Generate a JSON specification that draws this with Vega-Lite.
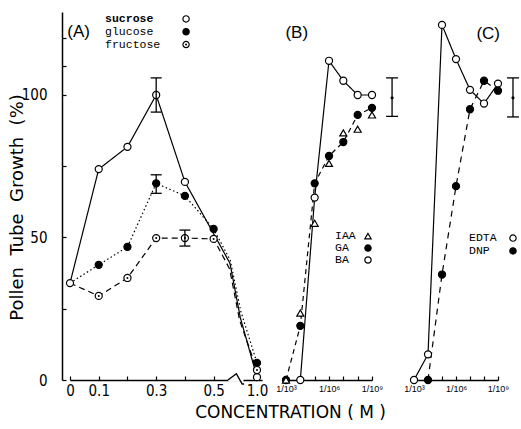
{
 "$schema": "https://vega.github.io/schema/vega-lite/v6.json",
 "width": 455,
 "height": 368,
 "autosize": {"type": "none"},
 "padding": {"left": 62, "top": 12, "right": 4, "bottom": 49},
 "background": "white",
 "config": {
  "view": {"stroke": null},
  "axis": {"grid": false, "domainColor": "black", "tickColor": "black", "labelColor": "black", "titleColor": "black", "domainWidth": 1.5, "tickWidth": 1.2, "labelFlush": false, "labelOverlap": false}
 },
 "datasets": {
  "A": [
   {"series": "sucrose", "conc": 0, "pct": 34},
   {"series": "sucrose", "conc": 0.1, "pct": 74},
   {"series": "sucrose", "conc": 0.2, "pct": 81.8},
   {"series": "sucrose", "conc": 0.3, "pct": 100},
   {"series": "sucrose", "conc": 0.4, "pct": 69.5},
   {"series": "sucrose", "conc": 0.58, "pct": 41},
   {"series": "sucrose", "conc": 0.74, "pct": 22},
   {"series": "sucrose", "conc": 1.0, "pct": 1},
   {"series": "glucose", "conc": 0, "pct": 34},
   {"series": "glucose", "conc": 0.1, "pct": 40.4},
   {"series": "glucose", "conc": 0.2, "pct": 46.7},
   {"series": "glucose", "conc": 0.3, "pct": 69},
   {"series": "glucose", "conc": 0.4, "pct": 64.6},
   {"series": "glucose", "conc": 0.5, "pct": 53},
   {"series": "glucose", "conc": 0.585, "pct": 42},
   {"series": "glucose", "conc": 0.75, "pct": 24},
   {"series": "glucose", "conc": 1.0, "pct": 6},
   {"series": "fructose", "conc": 0, "pct": 34},
   {"series": "fructose", "conc": 0.1, "pct": 29.5},
   {"series": "fructose", "conc": 0.2, "pct": 35.8},
   {"series": "fructose", "conc": 0.3, "pct": 49.8},
   {"series": "fructose", "conc": 0.4, "pct": 49.8},
   {"series": "fructose", "conc": 0.5, "pct": 49.5},
   {"series": "fructose", "conc": 0.575, "pct": 39},
   {"series": "fructose", "conc": 0.73, "pct": 21},
   {"series": "fructose", "conc": 1.0, "pct": 3.5}
  ],
  "Aerr": [
   {"conc": 0.3, "lo": 94, "hi": 106},
   {"conc": 0.3, "lo": 65.5, "hi": 72},
   {"conc": 0.4, "lo": 47, "hi": 52.6}
  ],
  "Abrk": [
   {"conc": 0.55, "pct": 0},
   {"conc": 0.68, "pct": 2.2},
   {"conc": 0.77, "pct": -1.4},
   {"conc": 0.8, "pct": -1.4}
  ],
  "Agap": [{"x1": 0.552, "x2": 0.79, "lo": -0.6, "hi": 0.6}],
  "Aleg": [
   {"series": "sucrose", "conc": 0.404, "pct": 126.7},
   {"series": "glucose", "conc": 0.404, "pct": 122.2},
   {"series": "fructose", "conc": 0.404, "pct": 117.7}
  ],
  "Atxt": [
   {"conc": 0.122, "pct": 126.7, "label": "sucrose"},
   {"conc": 0.122, "pct": 122.2, "label": "glucose"},
   {"conc": 0.122, "pct": 117.7, "label": "fructose"}
  ],
  "Apanel": [{"conc": 0.03, "pct": 122.1, "label": "(A)"}],
  "B": [
   {"series": "BA", "n": 4, "pct": 0},
   {"series": "BA", "n": 5, "pct": 64},
   {"series": "BA", "n": 6, "pct": 112},
   {"series": "BA", "n": 7, "pct": 105},
   {"series": "BA", "n": 8, "pct": 100},
   {"series": "BA", "n": 9, "pct": 100},
   {"series": "GA", "n": 3, "pct": 0},
   {"series": "GA", "n": 4, "pct": 19},
   {"series": "GA", "n": 5, "pct": 69},
   {"series": "GA", "n": 6, "pct": 78.6},
   {"series": "GA", "n": 7, "pct": 83.5},
   {"series": "GA", "n": 8, "pct": 93},
   {"series": "GA", "n": 9, "pct": 95.5},
   {"series": "IAA", "n": 3, "pct": 0},
   {"series": "IAA", "n": 4, "pct": 23.5},
   {"series": "IAA", "n": 5, "pct": 55},
   {"series": "IAA", "n": 6, "pct": 76},
   {"series": "IAA", "n": 7, "pct": 86.7},
   {"series": "IAA", "n": 8, "pct": 88},
   {"series": "IAA", "n": 9, "pct": 93}
  ],
  "Berr": [{"n": 10.4, "lo": 92.5, "hi": 106, "mid": 99}],
  "Bleg": [
   {"series": "IAA", "n": 8.72, "pct": 50.5},
   {"series": "GA", "n": 8.72, "pct": 46.3},
   {"series": "BA", "n": 8.72, "pct": 42.1}
  ],
  "Btxt": [
   {"n": 6.42, "pct": 50.5, "label": "IAA"},
   {"n": 6.42, "pct": 46.3, "label": "GA"},
   {"n": 6.42, "pct": 42.1, "label": "BA"}
  ],
  "Bpanel": [{"n": 3.75, "pct": 121.8, "label": "(B)"}],
  "C": [
   {"series": "EDTA", "n": 3, "pct": 0},
   {"series": "EDTA", "n": 4, "pct": 9},
   {"series": "EDTA", "n": 5, "pct": 124.6},
   {"series": "EDTA", "n": 6, "pct": 112.6},
   {"series": "EDTA", "n": 7, "pct": 101.8},
   {"series": "EDTA", "n": 8, "pct": 97},
   {"series": "EDTA", "n": 9, "pct": 104},
   {"series": "DNP", "n": 4, "pct": 0},
   {"series": "DNP", "n": 5, "pct": 37},
   {"series": "DNP", "n": 6, "pct": 68},
   {"series": "DNP", "n": 7, "pct": 95},
   {"series": "DNP", "n": 8, "pct": 105},
   {"series": "DNP", "n": 9, "pct": 101.5}
  ],
  "Cerr": [{"n": 10.07, "lo": 92.3, "hi": 106, "mid": 99}],
  "Cleg": [
   {"series": "EDTA", "n": 10.07, "pct": 49.8},
   {"series": "DNP", "n": 10.07, "pct": 45.3}
  ],
  "Ctxt": [
   {"n": 6.93, "pct": 49.8, "label": "EDTA"},
   {"n": 6.93, "pct": 45.3, "label": "DNP"}
  ],
  "Cpanel": [{"n": 8.3, "pct": 121.3, "label": "(C)"}]
 },
 "layer": [
  {
   "encoding": {
    "x": {"field": "conc", "type": "quantitative",
     "scale": {"domain": [0, 0.55, 1.078], "range": [8, 166, 200], "nice": false, "zero": false},
     "axis": {"orient": "bottom", "values": [0, 0.1, 0.2, 0.3, 0.4, 0.5, 1.0],
      "labelExpr": "datum.value==0.2||datum.value==0.4 ? '' : (datum.value==0 ? '0' : format(datum.value,'.1f'))",
      "tickSize": -4, "labelPadding": 7, "labelFont": "Liberation Sans Narrow, DejaVu Sans Condensed, Liberation Sans", "labelFontSize": 15, "title": null}},
    "y": {"field": "pct", "type": "quantitative",
     "scale": {"domain": [0, 129.12], "nice": false},
     "axis": {"values": [0, 25, 50, 75, 100, 110, 120],
      "labelExpr": "datum.value==0||datum.value==50||datum.value==100 ? datum.label : ''",
      "tickSize": -4, "labelPadding": 19, "labelFont": "Liberation Sans Narrow, DejaVu Sans Condensed, Liberation Sans", "labelFontSize": 15,
      "title": "Pollen\u00a0 Tube\u00a0 Growth\u00a0 (%)", "titleFont": "DejaVu Sans", "titleFontSize": 18, "titleFontWeight": "normal",
      "titleAngle": -90, "titleX": -45, "titleY": 195, "titleAlign": "center", "titleBaseline": "middle"}}
   },
   "layer": [
    {"data": {"name": "Agap"}, "mark": {"type": "rect", "color": "white", "opacity": 1},
     "encoding": {"x": {"field": "x1", "type": "quantitative"}, "x2": {"field": "x2"}, "y": {"field": "lo", "type": "quantitative"}, "y2": {"field": "hi"}}},
    {"data": {"name": "Abrk"}, "mark": {"type": "line", "color": "black", "strokeWidth": 1.4}, "encoding": {}},
    {"data": {"name": "A"}, "mark": {"type": "line", "color": "black", "strokeWidth": 1.2},
     "encoding": {"strokeDash": {"field": "series", "type": "nominal", "scale": {"domain": ["sucrose", "glucose", "fructose", "IAA", "GA", "BA", "EDTA", "DNP"], "range": [[1, 0], [1.5, 2.5], [6, 4], [1, 0], [5, 4], [1, 0], [1, 0], [6, 5]]}, "legend": null}}},
    {"data": {"name": "A"},
     "transform": [{"filter": "indexof([0,0.1,0.2,0.3,0.4,0.5,1],datum.conc)>=0 && (datum.conc>0 || datum.series=='sucrose')"}],
     "mark": {"type": "point", "filled": true, "stroke": "black", "strokeWidth": 1.2, "size": 50, "opacity": 1},
     "encoding": {
      "fill": {"field": "series", "type": "nominal", "scale": {"domain": ["sucrose", "glucose", "fructose", "IAA", "GA", "BA", "EDTA", "DNP"], "range": ["white", "black", "white", "white", "black", "white", "white", "black"]}, "legend": null},
      "shape": {"field": "series", "type": "nominal", "scale": {"domain": ["sucrose", "glucose", "fructose", "IAA", "GA", "BA", "EDTA", "DNP"], "range": ["circle", "circle", "circle", "triangle-up", "circle", "circle", "circle", "circle"]}, "legend": null}}},
    {"data": {"name": "A"},
     "transform": [{"filter": "indexof([0,0.1,0.2,0.3,0.4,0.5,1],datum.conc)>=0 && datum.conc>0 && datum.series=='fructose'"}],
     "mark": {"type": "circle", "color": "black", "size": 4, "opacity": 1}},
    {"data": {"name": "Aerr"}, "mark": {"type": "rule", "color": "black", "strokeWidth": 1.3},
     "encoding": {"y": {"field": "lo", "type": "quantitative"}, "y2": {"field": "hi"}}},
    {"data": {"name": "Aerr"}, "mark": {"type": "tick", "orient": "horizontal", "color": "black", "size": 11, "thickness": 1.3, "opacity": 1},
     "encoding": {"y": {"field": "lo", "type": "quantitative"}}},
    {"data": {"name": "Aerr"}, "mark": {"type": "tick", "orient": "horizontal", "color": "black", "size": 11, "thickness": 1.3, "opacity": 1},
     "encoding": {"y": {"field": "hi", "type": "quantitative"}}},
    {"data": {"name": "Aleg"},
     "mark": {"type": "point", "filled": true, "stroke": "black", "strokeWidth": 1.2, "size": 40, "opacity": 1},
     "encoding": {
      "fill": {"field": "series", "type": "nominal", "scale": {"domain": ["sucrose", "glucose", "fructose", "IAA", "GA", "BA", "EDTA", "DNP"], "range": ["white", "black", "white", "white", "black", "white", "white", "black"]}, "legend": null},
      "shape": {"field": "series", "type": "nominal", "scale": {"domain": ["sucrose", "glucose", "fructose", "IAA", "GA", "BA", "EDTA", "DNP"], "range": ["circle", "circle", "circle", "triangle-up", "circle", "circle", "circle", "circle"]}, "legend": null}}},
    {"data": {"name": "Aleg"}, "transform": [{"filter": "datum.series=='fructose'"}],
     "mark": {"type": "circle", "color": "black", "size": 4, "opacity": 1}},
    {"data": {"name": "Atxt"}, "transform": [{"filter": "datum.label=='sucrose'"}],
     "mark": {"type": "text", "align": "left", "baseline": "middle", "font": "Liberation Mono", "fontSize": 11.5, "fontWeight": "bold", "color": "black"},
     "encoding": {"text": {"field": "label"}}},
    {"data": {"name": "Atxt"}, "transform": [{"filter": "datum.label!='sucrose'"}],
     "mark": {"type": "text", "align": "left", "baseline": "middle", "font": "Liberation Mono", "fontSize": 11.5, "color": "black"},
     "encoding": {"text": {"field": "label"}}},
    {"data": {"name": "Apanel"},
     "mark": {"type": "text", "align": "center", "baseline": "middle", "font": "Liberation Sans", "fontSize": 17, "color": "black"},
     "encoding": {"text": {"field": "label"}}}
   ]
  },
  {
   "encoding": {
    "x": {"field": "n", "type": "quantitative",
     "scale": {"domain": [3, 9], "range": [224, 310], "nice": false, "zero": false},
     "axis": {"orient": "bottom", "values": [3, 4, 5, 6, 7, 8, 9],
      "labelExpr": "datum.value==3 ? '1/10³' : datum.value==6 ? '1/10⁶' : datum.value==9 ? '1/10⁹' : ''",
      "tickSize": -4, "labelPadding": 8, "labelFont": "Liberation Sans", "labelFontSize": 9,
      "title": "CONCENTRATION ( M )", "titleFont": "DejaVu Sans", "titleFontSize": 17, "titleFontWeight": "normal",
      "titleX": 228, "titleY": 24, "titleAlign": "center", "titleBaseline": "top"}},
    "y": {"field": "pct", "type": "quantitative",
     "scale": {"domain": [0, 129.12], "nice": false},
     "axis": {"values": [0, 25, 50, 75, 100, 110, 120],
      "labelExpr": "datum.value==0||datum.value==50||datum.value==100 ? datum.label : ''",
      "tickSize": -4, "labelPadding": 19, "labelFont": "Liberation Sans Narrow, DejaVu Sans Condensed, Liberation Sans", "labelFontSize": 15,
      "title": "Pollen\u00a0 Tube\u00a0 Growth\u00a0 (%)", "titleFont": "DejaVu Sans", "titleFontSize": 18, "titleFontWeight": "normal",
      "titleAngle": -90, "titleX": -45, "titleY": 195, "titleAlign": "center", "titleBaseline": "middle"}}
   },
   "layer": [
    {"data": {"name": "B"}, "transform": [{"filter": "datum.series!='IAA'"}],
     "mark": {"type": "line", "color": "black", "strokeWidth": 1.2},
     "encoding": {"strokeDash": {"field": "series", "type": "nominal", "scale": {"domain": ["sucrose", "glucose", "fructose", "IAA", "GA", "BA", "EDTA", "DNP"], "range": [[1, 0], [1.5, 2.5], [6, 4], [1, 0], [5, 4], [1, 0], [1, 0], [6, 5]]}, "legend": null}}},
    {"data": {"name": "B"},
     "mark": {"type": "point", "filled": true, "stroke": "black", "strokeWidth": 1.2, "size": 50, "opacity": 1},
     "encoding": {
      "fill": {"field": "series", "type": "nominal", "scale": {"domain": ["sucrose", "glucose", "fructose", "IAA", "GA", "BA", "EDTA", "DNP"], "range": ["white", "black", "white", "white", "black", "white", "white", "black"]}, "legend": null},
      "shape": {"field": "series", "type": "nominal", "scale": {"domain": ["sucrose", "glucose", "fructose", "IAA", "GA", "BA", "EDTA", "DNP"], "range": ["circle", "circle", "circle", "triangle-up", "circle", "circle", "circle", "circle"]}, "legend": null}}},
    {"data": {"name": "Bleg"},
     "mark": {"type": "point", "filled": true, "stroke": "black", "strokeWidth": 1.2, "size": 40, "opacity": 1},
     "encoding": {
      "fill": {"field": "series", "type": "nominal", "scale": {"domain": ["sucrose", "glucose", "fructose", "IAA", "GA", "BA", "EDTA", "DNP"], "range": ["white", "black", "white", "white", "black", "white", "white", "black"]}, "legend": null},
      "shape": {"field": "series", "type": "nominal", "scale": {"domain": ["sucrose", "glucose", "fructose", "IAA", "GA", "BA", "EDTA", "DNP"], "range": ["circle", "circle", "circle", "triangle-up", "circle", "circle", "circle", "circle"]}, "legend": null}}},
    {"data": {"name": "Berr"}, "mark": {"type": "rule", "color": "black", "strokeWidth": 1.3},
     "encoding": {"y": {"field": "lo", "type": "quantitative"}, "y2": {"field": "hi"}}},
    {"data": {"name": "Berr"}, "mark": {"type": "tick", "orient": "horizontal", "color": "black", "size": 12, "thickness": 1.3, "opacity": 1},
     "encoding": {"y": {"field": "lo", "type": "quantitative"}}},
    {"data": {"name": "Berr"}, "mark": {"type": "tick", "orient": "horizontal", "color": "black", "size": 12, "thickness": 1.3, "opacity": 1},
     "encoding": {"y": {"field": "hi", "type": "quantitative"}}},
    {"data": {"name": "Berr"}, "mark": {"type": "circle", "color": "black", "size": 10, "opacity": 1},
     "encoding": {"y": {"field": "mid", "type": "quantitative"}}},
    {"data": {"name": "Btxt"},
     "mark": {"type": "text", "align": "left", "baseline": "middle", "font": "Liberation Mono", "fontSize": 11.5, "color": "black"},
     "encoding": {"text": {"field": "label"}}},
    {"data": {"name": "Bpanel"},
     "mark": {"type": "text", "align": "center", "baseline": "middle", "font": "Liberation Sans", "fontSize": 17, "color": "black"},
     "encoding": {"text": {"field": "label"}}}
   ]
  },
  {
   "encoding": {
    "x": {"field": "n", "type": "quantitative",
     "scale": {"domain": [3, 9], "range": [352, 436], "nice": false, "zero": false},
     "axis": {"orient": "bottom", "values": [3, 4, 5, 6, 7, 8, 9],
      "labelExpr": "datum.value==3 ? '1/10³' : datum.value==6 ? '1/10⁶' : datum.value==9 ? '1/10⁹' : ''",
      "tickSize": -4, "labelPadding": 8, "labelFont": "Liberation Sans", "labelFontSize": 9, "title": null}},
    "y": {"field": "pct", "type": "quantitative",
     "scale": {"domain": [0, 129.12], "nice": false},
     "axis": {"values": [0, 25, 50, 75, 100, 110, 120],
      "labelExpr": "datum.value==0||datum.value==50||datum.value==100 ? datum.label : ''",
      "tickSize": -4, "labelPadding": 19, "labelFont": "Liberation Sans Narrow, DejaVu Sans Condensed, Liberation Sans", "labelFontSize": 15,
      "title": "Pollen\u00a0 Tube\u00a0 Growth\u00a0 (%)", "titleFont": "DejaVu Sans", "titleFontSize": 18, "titleFontWeight": "normal",
      "titleAngle": -90, "titleX": -45, "titleY": 195, "titleAlign": "center", "titleBaseline": "middle"}}
   },
   "layer": [
    {"data": {"name": "C"},
     "mark": {"type": "line", "color": "black", "strokeWidth": 1.2},
     "encoding": {"strokeDash": {"field": "series", "type": "nominal", "scale": {"domain": ["sucrose", "glucose", "fructose", "IAA", "GA", "BA", "EDTA", "DNP"], "range": [[1, 0], [1.5, 2.5], [6, 4], [1, 0], [5, 4], [1, 0], [1, 0], [6, 5]]}, "legend": null}}},
    {"data": {"name": "C"},
     "mark": {"type": "point", "filled": true, "stroke": "black", "strokeWidth": 1.2, "size": 50, "opacity": 1},
     "encoding": {
      "fill": {"field": "series", "type": "nominal", "scale": {"domain": ["sucrose", "glucose", "fructose", "IAA", "GA", "BA", "EDTA", "DNP"], "range": ["white", "black", "white", "white", "black", "white", "white", "black"]}, "legend": null},
      "shape": {"field": "series", "type": "nominal", "scale": {"domain": ["sucrose", "glucose", "fructose", "IAA", "GA", "BA", "EDTA", "DNP"], "range": ["circle", "circle", "circle", "triangle-up", "circle", "circle", "circle", "circle"]}, "legend": null}}},
    {"data": {"name": "Cleg"},
     "mark": {"type": "point", "filled": true, "stroke": "black", "strokeWidth": 1.2, "size": 40, "opacity": 1},
     "encoding": {
      "fill": {"field": "series", "type": "nominal", "scale": {"domain": ["sucrose", "glucose", "fructose", "IAA", "GA", "BA", "EDTA", "DNP"], "range": ["white", "black", "white", "white", "black", "white", "white", "black"]}, "legend": null},
      "shape": {"field": "series", "type": "nominal", "scale": {"domain": ["sucrose", "glucose", "fructose", "IAA", "GA", "BA", "EDTA", "DNP"], "range": ["circle", "circle", "circle", "triangle-up", "circle", "circle", "circle", "circle"]}, "legend": null}}},
    {"data": {"name": "Cerr"}, "mark": {"type": "rule", "color": "black", "strokeWidth": 1.3},
     "encoding": {"y": {"field": "lo", "type": "quantitative"}, "y2": {"field": "hi"}}},
    {"data": {"name": "Cerr"}, "mark": {"type": "tick", "orient": "horizontal", "color": "black", "size": 12, "thickness": 1.3, "opacity": 1},
     "encoding": {"y": {"field": "lo", "type": "quantitative"}}},
    {"data": {"name": "Cerr"}, "mark": {"type": "tick", "orient": "horizontal", "color": "black", "size": 12, "thickness": 1.3, "opacity": 1},
     "encoding": {"y": {"field": "hi", "type": "quantitative"}}},
    {"data": {"name": "Cerr"}, "mark": {"type": "circle", "color": "black", "size": 10, "opacity": 1},
     "encoding": {"y": {"field": "mid", "type": "quantitative"}}},
    {"data": {"name": "Ctxt"},
     "mark": {"type": "text", "align": "left", "baseline": "middle", "font": "Liberation Mono", "fontSize": 11.5, "color": "black"},
     "encoding": {"text": {"field": "label"}}},
    {"data": {"name": "Cpanel"},
     "mark": {"type": "text", "align": "center", "baseline": "middle", "font": "Liberation Sans", "fontSize": 17, "color": "black"},
     "encoding": {"text": {"field": "label"}}}
   ]
  }
 ],
 "resolve": {"scale": {"x": "independent"}}
}
